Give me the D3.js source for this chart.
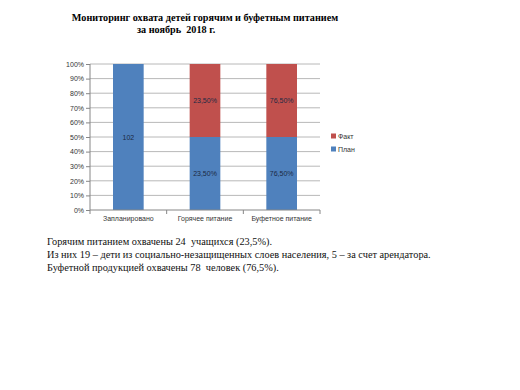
<!DOCTYPE html>
<html>
<head>
<meta charset="utf-8">
<script src="https://cdn.jsdelivr.net/npm/d3@7"></script>
<style>
  body { margin: 0; background: #fff; }
  svg { display: block; }
</style>
</head>
<body>
<svg id="chart"></svg>
<script>
var categories = ["Запланировано", "Горячее питание", "Буфетное питание"];
var planValues = [102, 0.235, 0.765];
var factValues = [0, 0.235, 0.765];
var seriesNames = ["План", "Факт"];
var yTicks = [0, 0.1, 0.2, 0.3, 0.4, 0.5, 0.6, 0.7, 0.8, 0.9, 1];
var titleLines = ["Мониторинг охвата детей горячим и буфетным питанием", "за ноябрь  2018 г."];
var noteLines = [
  "Горячим питанием охвачены 24  учащихся (23,5%).",
  "Из них 19 – дети из социально-незащищенных слоев населения, 5 – за счет арендатора.",
  "Буфетной продукцией охвачены 78  человек (76,5%)."
];

var width = 520;
var height = 390;
var colors = { "План": "#4F81BD", "Факт": "#C0504D" };

var svg = d3.select("#chart")
            .attr("width", width)
            .attr("height", height);

// title
svg.append("text")
   .attr("x", 205).attr("y", 21)
   .attr("text-anchor", "middle")
   .style("font-family", "'Liberation Serif', 'Times New Roman', serif")
   .style("font-weight", "bold")
   .style("font-size", "10.2px")
   .text(titleLines[0]);
svg.append("text")
   .attr("x", 137).attr("y", 33)
   .style("font-family", "'Liberation Serif', 'Times New Roman', serif")
   .style("font-weight", "bold")
   .style("font-size", "10.2px")
   .style("white-space", "pre")
   .attr("xml:space", "preserve")
   .text(titleLines[1]);

var data = categories.map(function(c, i){
  return { cat: c, "План": planValues[i], "Факт": factValues[i] };
});

var stack = d3.stack()
              .keys(seriesNames)
              .offset(d3.stackOffsetExpand);
var layers = stack(data);

var x = d3.scaleBand()
          .domain(categories)
          .range([90, 320])
          .paddingInner(0.6)
          .paddingOuter(0.3);

var y = d3.scaleLinear()
          .domain([0, 1])
          .range([210, 64]);

// gridlines
svg.append("g")
   .selectAll("line")
   .data(yTicks.slice(1))
   .enter().append("line")
   .attr("x1", 90).attr("x2", 320)
   .attr("y1", function(d){ return y(d); })
   .attr("y2", function(d){ return y(d); })
   .attr("stroke", "#a6a6a6")
   .attr("stroke-width", 0.8);

// bars
var fmtPct = function(v){ return d3.format(".2%")(v).replace(".", ","); };
layers.forEach(function(layer){
  var g = svg.append("g");
  g.selectAll("rect")
   .data(layer)
   .enter().append("rect")
   .attr("x", function(d){ return x(d.data.cat); })
   .attr("width", x.bandwidth())
   .attr("y", function(d){ return y(d[1]); })
   .attr("height", function(d){ return y(d[0]) - y(d[1]); })
   .attr("fill", colors[layer.key]);
  g.selectAll("text")
   .data(layer.filter(function(d){ return d[1] - d[0] > 0; }))
   .enter().append("text")
   .attr("x", function(d){ return x(d.data.cat) + x.bandwidth()/2; })
   .attr("y", function(d){ return (y(d[0]) + y(d[1]))/2 + 2.5; })
   .attr("text-anchor", "middle")
   .style("font-family", "'Liberation Sans', Arial, sans-serif")
   .style("font-size", "7px")
   .attr("fill", "#1c2a44")
   .text(function(d){
     var v = d.data[layer.key];
     return v >= 1 ? d3.format("d")(v) : fmtPct(v);
   });
});

// axes
var yAxis = d3.axisLeft(y)
              .tickValues(yTicks)
              .tickSize(4)
              .tickFormat(d3.format(".0%"));
var gy = svg.append("g")
            .attr("transform", "translate(90,0)")
            .call(yAxis);

var gx = svg.append("g")
            .attr("transform", "translate(0,210)");
gx.append("line")
  .attr("x1", 90).attr("x2", 320)
  .attr("stroke", "#868686");
gx.selectAll(".tk")
  .data(d3.range(0, categories.length + 1))
  .enter().append("line")
  .attr("x1", function(i){ return 90 + i * (230 / categories.length); })
  .attr("x2", function(i){ return 90 + i * (230 / categories.length); })
  .attr("y1", 0).attr("y2", 4)
  .attr("stroke", "#868686");
gx.selectAll("text")
  .data(categories)
  .enter().append("text")
  .attr("x", function(d){ return x(d) + x.bandwidth()/2; })
  .attr("y", 11)
  .attr("text-anchor", "middle")
  .style("font-family", "'Liberation Sans', Arial, sans-serif")
  .style("font-size", "7px")
  .attr("fill", "#333")
  .text(function(d){ return d; });

gy.select(".domain").attr("stroke", "#868686").attr("d", "M0,210V64");
gy.selectAll(".tick line").attr("stroke", "#868686");
gy.selectAll(".tick text")
  .style("font-family", "'Liberation Sans', Arial, sans-serif")
  .style("font-size", "7px")
  .attr("fill", "#333")
  .attr("x", -6);

// legend
var legend = svg.append("g")
                .selectAll("g")
                .data(seriesNames.slice().reverse())
                .enter().append("g")
                .attr("transform", function(d, i){ return "translate(331," + (136 + i * 13) + ")"; });
legend.append("rect")
      .attr("x", 0).attr("y", -2.5)
      .attr("width", 5).attr("height", 5)
      .attr("fill", function(d){ return colors[d]; });
legend.append("text")
      .attr("x", 7).attr("y", 2.5)
      .style("font-family", "'Liberation Sans', Arial, sans-serif")
      .style("font-size", "7px")
      .attr("fill", "#333")
      .text(function(d){ return d; });

// notes
svg.append("g")
   .selectAll("text")
   .data(noteLines)
   .enter().append("text")
   .attr("x", 47)
   .attr("y", function(d, i){ return 245 + i * 13; })
   .style("font-family", "'Liberation Serif', 'Times New Roman', serif")
   .style("font-size", "10.3px")
   .attr("fill", "#111")
   .attr("xml:space", "preserve")
   .style("white-space", "pre")
   .text(function(d){ return d; });
</script>
</body>
</html>
